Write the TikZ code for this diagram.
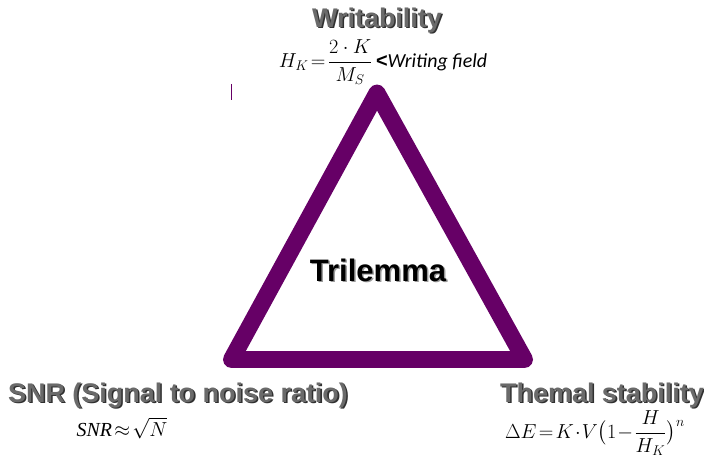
\documentclass[tikz,border=0pt]{standalone}
\usepackage{fontspec}
\usepackage{amsmath}
\setmainfont{Liberation Serif}
\newfontfamily\headfamily{Liberation Sans}
\newfontfamily\notefamily{Carlito}
\usetikzlibrary{positioning}

\definecolor{tripurple}{HTML}{660066}
\definecolor{headgray}{HTML}{6A6A6A}
\definecolor{shadegray}{HTML}{303030}
\definecolor{centershade}{HTML}{9A9A9A}

% text with a drop shadow, in one box
\newcommand{\dropshade}[2]{\leavevmode\rlap{\kern1.3pt\raisebox{-1.3pt}{\color{#1}#2}}#2}

\tikzset{
  head/.style={font=\headfamily\bfseries\fontsize{23}{27}\selectfont, text=headgray, inner sep=0pt},
  formula/.style={font=\fontsize{17}{20}\selectfont, inner sep=0pt},
  triline/.style={draw=tripurple, line width=14.5pt, line join=round, line cap=round},
}

\begin{document}
\begin{tikzpicture}[x=0.03cm, y=-0.03cm]
  \useasboundingbox (0,0) rectangle (704,461);
  % corners of the triangle
  \coordinate (top) at (377,93);
  \coordinate (left) at (231.5,359.5);
  \coordinate (right) at (524.5,359.5);
  \draw[triline] (top) -- (left) -- (right) -- cycle;
  % stray mark
  \coordinate (marka) at (231,84);
  \coordinate (markb) at (231,100);
  \draw[tripurple, line width=0.8pt] (marka) -- (markb);
  % centre label
  \node[head, font=\headfamily\bfseries\fontsize{26.5}{30}\selectfont, text=black] (tri) at (378,271) {\dropshade{centershade}{Trilemma}};
  % writability
  \node[head] (wrt) at (377,21) {\dropshade{shadegray}{Writability}};
  \node[formula] (wrtf) at (383,62) {$H_{K}\!=\!\dfrac{2\cdot K}{M_{S}}$\,{\headfamily\bfseries<}{\notefamily\itshape Writing field}};
  % snr
  \node[head] (snr) at (178,396) {\dropshade{shadegray}{SNR (Signal to noise ratio)}};
  \node[formula] (snrf) at (122,428) {$\mathit{SNR}\!\approx\!\sqrt{N}$};
  % thermal stability
  \node[head] (thm) at (602,396) {\dropshade{shadegray}{Themal stability}};
  \node[formula] (thmf) at (595,433) {$\Delta E\!=\!K\!\cdot\! V\bigl(1\!-\!\dfrac{H}{H_{K}}\bigr)^{n}$};
\end{tikzpicture}
\end{document}
